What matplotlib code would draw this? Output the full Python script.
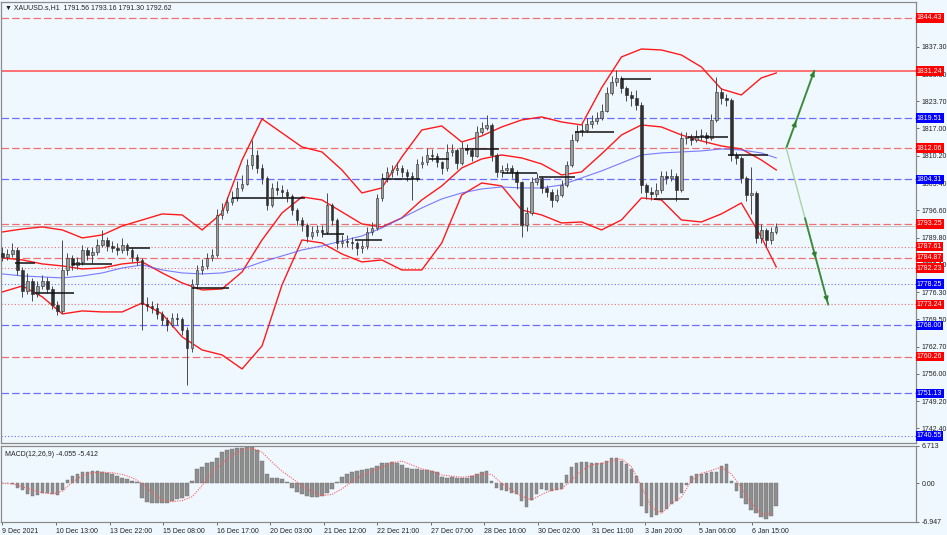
import numpy as np
import matplotlib
matplotlib.use("Agg")
import matplotlib.pyplot as plt
from matplotlib.transforms import blended_transform_factory

plt.rcParams['font.family'] = ['Liberation Sans', 'DejaVu Sans']

# XAUUSD H1 chart, squeezed to one candle per ~3 hours
HOURS = 3.076
closes = [1785.0, 1785.8, 1786.8, 1781.8, 1776.6, 1779.1, 1775.8, 1777.8, 1779.1, 1777.1,
          1773.1, 1771.6, 1781.8, 1784.8, 1783.1, 1783.8, 1786.8, 1785.5, 1786.3, 1788.0,
          1789.3, 1787.8, 1787.3, 1786.8, 1788.0, 1786.8, 1785.0, 1784.3, 1773.4, 1772.9,
          1772.4, 1770.9, 1769.4, 1768.1, 1769.9, 1769.6, 1766.9, 1762.4, 1778.3, 1781.8,
          1782.8, 1784.8, 1785.5, 1795.5, 1796.7, 1798.7, 1799.7, 1802.2, 1803.2, 1807.9,
          1810.4, 1807.2, 1804.7, 1798.0, 1802.2, 1801.7, 1801.2, 1800.2, 1796.7, 1794.2,
          1793.0, 1790.3, 1791.3, 1791.7, 1791.3, 1798.0, 1794.2, 1788.5, 1789.0, 1788.8,
          1788.5, 1787.3, 1787.8, 1791.3, 1792.2, 1799.7, 1804.7, 1806.2, 1806.7, 1807.2,
          1806.2, 1805.2, 1804.7, 1808.2, 1808.6, 1810.4, 1810.1, 1808.6, 1807.2, 1811.1,
          1811.6, 1808.4, 1812.1, 1811.6, 1810.1, 1816.1, 1817.1, 1817.8, 1810.4, 1806.2,
          1806.7, 1807.2, 1806.2, 1803.7, 1793.0, 1796.0, 1803.7, 1804.7, 1802.2, 1801.2,
          1799.2, 1800.4, 1802.9, 1807.9, 1814.1, 1816.4, 1816.6, 1818.1, 1818.8, 1819.6,
          1821.3, 1825.8, 1828.5, 1829.5, 1827.0, 1825.3, 1824.6, 1822.8, 1802.9, 1801.2,
          1800.7, 1801.7, 1805.2, 1804.7, 1805.2, 1801.7, 1814.6, 1814.6, 1814.1, 1815.1,
          1815.4, 1814.6, 1819.1, 1826.0, 1824.6, 1824.1, 1810.4, 1809.6, 1804.7, 1800.4,
          1800.9, 1789.8, 1791.7, 1789.3, 1791.3, 1792.6]
highs = [1787.5, 1787.0, 1788.6, 1787.4, 1782.5, 1781.0, 1779.8, 1779.0, 1780.6, 1780.0,
         1777.8, 1774.0, 1789.3, 1786.0, 1785.5, 1785.0, 1788.0, 1787.6, 1787.5, 1789.4,
         1791.7, 1790.0, 1789.0, 1788.5, 1789.8, 1788.6, 1787.5, 1785.8, 1784.8, 1775.0,
         1774.2, 1773.6, 1771.5, 1770.2, 1771.2, 1771.0, 1770.2, 1767.5, 1779.6, 1783.0,
         1784.4, 1786.0, 1787.0, 1797.0, 1798.5, 1800.0, 1801.3, 1804.0, 1805.5, 1809.5,
         1814.1, 1811.5, 1808.2, 1805.2, 1803.5, 1804.0, 1803.0, 1802.0, 1800.8, 1797.2,
         1795.0, 1793.5, 1792.8, 1793.0, 1793.0, 1800.9, 1798.5, 1794.8, 1790.5, 1790.6,
         1790.0, 1789.0, 1789.2, 1792.5, 1793.8, 1800.8, 1806.0, 1807.5, 1808.0, 1808.6,
         1808.0, 1807.0, 1806.2, 1809.4, 1810.0, 1812.0, 1811.8, 1810.8, 1809.0, 1813.0,
         1813.2, 1812.0, 1813.6, 1813.2, 1812.0, 1817.5, 1818.5, 1820.3, 1818.2, 1810.8,
         1808.0, 1808.4, 1807.8, 1806.6, 1804.0, 1797.4, 1805.0, 1806.0, 1805.2, 1803.0,
         1801.8, 1802.0, 1804.2, 1809.0, 1815.6, 1817.8, 1818.0, 1819.5, 1820.4, 1821.0,
         1823.0, 1827.2, 1830.0, 1831.5, 1830.0, 1827.6, 1826.2, 1826.6, 1823.5, 1803.5,
         1802.5, 1803.5, 1806.5, 1806.4, 1806.8, 1805.8, 1816.0, 1816.0, 1815.6, 1816.5,
         1816.8, 1816.2, 1820.5, 1829.8, 1827.0, 1825.6, 1824.6, 1811.0, 1810.0, 1805.2,
         1807.4, 1801.4, 1793.2, 1792.2, 1792.5, 1793.5]
lows = [1784.0, 1784.2, 1785.0, 1780.6, 1775.0, 1775.8, 1774.0, 1775.0, 1777.0, 1776.0,
        1772.0, 1770.6, 1771.0, 1780.5, 1781.8, 1782.0, 1783.0, 1784.2, 1783.5, 1785.6,
        1787.4, 1786.5, 1786.2, 1785.4, 1786.0, 1785.5, 1783.8, 1783.0, 1766.9, 1771.5,
        1771.0, 1769.6, 1768.0, 1766.6, 1767.5, 1768.2, 1765.6, 1753.2, 1761.5, 1777.0,
        1780.8, 1782.0, 1784.0, 1785.0, 1794.5, 1796.0, 1798.0, 1799.0, 1801.5, 1802.8,
        1807.0, 1806.0, 1803.2, 1796.8, 1797.5, 1800.5, 1800.0, 1798.8, 1795.4, 1793.0,
        1791.6, 1788.8, 1789.5, 1790.2, 1790.0, 1790.8, 1793.0, 1787.0, 1787.6, 1787.5,
        1787.0, 1785.5, 1786.0, 1787.0, 1790.5, 1791.8, 1799.0, 1803.6, 1805.0, 1805.5,
        1804.8, 1803.8, 1799.2, 1804.0, 1807.2, 1808.0, 1808.8, 1807.4, 1805.6, 1806.5,
        1810.0, 1807.0, 1808.0, 1810.5, 1809.0, 1809.8, 1815.5, 1816.5, 1809.0, 1805.0,
        1805.0, 1805.8, 1804.6, 1802.0, 1790.0, 1791.5, 1795.5, 1803.0, 1801.0, 1800.0,
        1797.5, 1798.6, 1800.0, 1802.5, 1807.5, 1813.5, 1815.0, 1816.0, 1817.2, 1818.0,
        1819.0, 1821.0, 1825.2, 1827.6, 1825.8, 1823.8, 1822.5, 1821.5, 1801.0, 1799.4,
        1799.2, 1800.0, 1801.0, 1803.2, 1803.8, 1799.0, 1801.2, 1813.2, 1812.8, 1813.6,
        1814.0, 1813.2, 1814.0, 1818.5, 1823.0, 1822.5, 1809.0, 1808.2, 1803.4, 1799.0,
        1795.8, 1788.5, 1788.6, 1787.5, 1788.2, 1790.8]
first_open = 1786.0

# Bollinger bands and moving average, every 4th candle
bb_upper = [1791.25, 1791.99, 1792.49, 1791.74, 1789.76, 1790.50, 1792.74, 1794.23, 1795.72, 1795.47,
            1791.74, 1795.97, 1809.14, 1819.33, 1815.85, 1812.37, 1811.13, 1806.65, 1800.94, 1802.18,
            1809.89, 1816.59, 1817.59, 1813.61, 1815.10, 1817.34, 1819.08, 1819.83, 1818.58, 1817.84,
            1827.03, 1834.74, 1836.72, 1836.47, 1835.23, 1832.25, 1826.78, 1825.29, 1829.52, 1830.76]
bb_middle = [1784.79, 1784.29, 1783.30, 1782.80, 1782.05, 1782.30, 1783.30, 1783.79, 1781.06, 1778.57,
             1776.83, 1777.08, 1781.31, 1789.26, 1795.97, 1799.95, 1799.20, 1796.22, 1793.24, 1792.49,
             1794.73, 1799.20, 1802.68, 1807.15, 1809.39, 1810.38, 1809.64, 1808.15, 1805.41, 1806.16,
             1810.63, 1815.35, 1817.84, 1817.34, 1815.35, 1813.86, 1812.62, 1811.87, 1809.14, 1806.65]
bb_lower = [1776.34, 1777.83, 1775.10, 1770.87, 1771.62, 1771.37, 1771.37, 1773.60, 1770.87, 1765.16,
            1761.92, 1760.68, 1757.20, 1762.92, 1778.08, 1789.26, 1788.51, 1785.78, 1783.79, 1784.29,
            1781.80, 1781.80, 1788.51, 1800.44, 1803.42, 1802.68, 1796.71, 1795.47, 1793.48, 1793.73,
            1791.74, 1794.23, 1799.70, 1799.20, 1794.23, 1793.73, 1795.72, 1798.45, 1790.01, 1782.55]
ma_blue = [1780.81, 1780.31, 1780.07, 1779.82, 1780.31, 1781.06, 1782.30, 1783.05, 1781.80, 1781.06,
           1780.81, 1781.06, 1782.05, 1783.79, 1785.28, 1786.77, 1787.77, 1789.01, 1790.25, 1792.24,
           1794.73, 1797.21, 1799.45, 1800.94, 1801.93, 1802.43, 1802.18, 1802.18, 1802.93, 1804.67,
           1806.41, 1808.39, 1810.38, 1810.88, 1811.13, 1811.38, 1811.87, 1811.62, 1810.88, 1809.64]

# black period lines (start candle, end candle, price)
seg_start = [2.6, 6.6, 14.0, 25.4, 38.0, 46.0, 53.4, 64.0, 70.6, 76.0, 85.4, 92.6, 100.0, 107.4, 114.6, 124.0, 130.6, 137.4, 145.4]
seg_end = [6.6, 14.4, 22.0, 29.6, 45.4, 53.0, 60.6, 68.4, 76.0, 83.6, 89.4, 99.4, 107.0, 114.6, 122.4, 130.0, 137.6, 145.4, 153.4]
seg_price = [1783.5, 1776.1, 1783.3, 1787.3, 1777.3, 1799.7, 1799.7, 1790.8, 1789.3, 1804.4, 1809.4, 1811.9, 1805.9, 1804.9, 1816.1, 1829.3, 1799.5, 1814.9, 1810.4]

# horizontal levels
level_prices = [1844.43, 1831.24, 1819.51, 1812.06, 1804.31, 1793.25, 1787.61, 1784.87, 1782.23, 1778.25, 1773.24, 1768.00, 1760.26, 1751.13, 1740.55]
level_colors = ['red', 'red', 'blue', 'red', 'blue', 'red', 'red', 'red', 'red', 'blue', 'red', 'blue', 'red', 'blue', 'blue']
level_styles = ['dash', 'solid', 'dash', 'dash', 'dash', 'dash', 'dot', 'dash', 'dot', 'dot', 'dot', 'dash', 'dash', 'dash', 'dot']
last_price = 1792.62

price_ticks = [1837.30, 1830.50, 1823.70, 1817.00, 1810.20, 1803.40, 1796.60, 1789.80, 1783.10, 1776.30, 1769.50, 1762.70, 1756.00, 1749.20, 1742.40]

# MACD(12,26,9) histogram per candle, signal every 2nd candle
macd_hist = [0.1, 0.0, -0.2, -0.8, -1.2, -1.9, -2.2, -2.1, -1.7, -1.7,
             -1.9, -2.1, -1.2, 0.6, 1.3, 1.6, 2.0, 2.1, 2.2, 2.3,
             2.1, 1.8, 1.6, 1.3, 1.0, 0.8, 0.4, 0.2, -2.6, -3.3,
             -3.6, -3.6, -3.6, -3.5, -3.1, -2.8, -2.7, -2.3, 0.4, 2.5,
             3.0, 3.6, 3.8, 4.6, 5.6, 6.0, 6.2, 6.3, 6.4, 6.5,
             6.5, 6.0, 4.0, 1.6, 1.0, 0.9, 0.8, 0.2, -0.9, -1.5,
             -2.0, -2.3, -2.5, -2.4, -2.3, -1.8, -1.0, 0.3, 1.2, 1.6,
             2.0, 2.3, 2.4, 2.5, 2.7, 3.2, 3.6, 3.7, 3.8, 3.7,
             3.3, 2.8, 2.6, 2.5, 2.4, 2.4, 2.3, 2.0, 1.2, 0.9,
             1.1, 1.0, 0.9, 1.0, 1.4, 1.7, 2.0, 2.3, 0.4, -0.8,
             -1.2, -1.4, -1.7, -1.9, -3.2, -4.2, -3.0, -1.9, -1.1, -1.2,
             -1.3, -1.2, -1.0, 1.5, 3.0, 3.6, 3.9, 3.8, 3.7, 3.6,
             3.7, 4.1, 4.5, 4.6, 4.1, 3.5, 2.6, 1.3, -4.0, -5.4,
             -6.0, -5.6, -5.1, -4.6, -3.8, -3.2, -1.8, -0.3, 1.4, 1.6,
             1.7, 1.9, 2.0, 2.1, 3.2, 3.5, 0.5, -1.3, -2.6, -3.8,
             -4.8, -5.4, -6.0, -6.4, -5.8, -4.055]
macd_signal = [0.0, -0.1, -0.6, -1.2, -1.7, -1.9, -1.4, 0.2, 1.4, 1.9,
               2.0, 1.9, 1.6, 1.0, 0.0, -1.6, -3.0, -3.3, -3.1, -2.4,
               -0.4, 2.0, 3.6, 5.0, 6.0, 6.3, 5.6, 3.8, 2.2, 0.9,
               -0.4, -1.5, -2.2, -2.0, -1.0, 0.3, 1.4, 2.2, 2.9, 3.7,
               4.0, 3.3, 2.6, 2.2, 1.5, 1.3, 1.1, 1.3, 1.7, 1.6,
               0.0, -1.2, -2.3, -3.0, -2.0, -1.2, -1.0, 0.6, 2.3, 3.3,
               3.6, 4.0, 4.4, 3.0, -0.5, -4.3, -5.4, -3.6, -2.5, 0.5,
               1.8, 2.3, 2.9, 1.7, -0.7, -3.6, -5.6, -5.412]
macd_top, macd_bottom = 6.713, -6.947

time_labels = ['9 Dec 2021', '10 Dec 13:00', '13 Dec 22:00', '15 Dec 08:00', '16 Dec 17:00',
               '20 Dec 03:00', '21 Dec 12:00', '22 Dec 21:00', '27 Dec 07:00', '28 Dec 16:00',
               '30 Dec 02:00', '31 Dec 11:00', '3 Jan 20:00', '5 Jan 06:00', '6 Jan 15:00']

# forecast arrows (candle, price)
arrow_base = (157.0, 1812.06)
arrow_up = (162.6, 1831.24)
arrow_down = (165.4, 1773.24)

BG = '#f0f8ff'
FS = 5.0

fig = plt.figure(figsize=(9.47, 5.35), dpi=100, facecolor=BG)
ax = fig.add_axes([0.001, 0.1720, 0.9663, 0.8243])
ax2 = fig.add_axes([0.001, 0.0243, 0.9663, 0.1421])
for a in (ax, ax2):
    a.set_facecolor(BG)
    a.set_xlim(-0.3, 183.0)
    for s in a.spines.values():
        s.set_color('#8a8a8a')
        s.set_linewidth(0.9)
    a.yaxis.tick_right()
    a.tick_params(axis='y', length=2.5, width=0.6, colors='#555555', labelsize=FS, pad=1.5, labelcolor='#222222')

ax.set_ylim(1738.8, 1848.4)
ax.set_xticks([])
ax.set_yticks(price_ticks)
ax.set_yticklabels(['%.2f' % p for p in price_ticks])

# levels
trans = blended_transform_factory(ax.transAxes, ax.transData)
line_col = {'red': '#f07070', 'blue': '#6c6cff'}
box_col = {'red': '#ff0000', 'blue': '#0000ff'}
for p, c, st in zip(level_prices, level_colors, level_styles):
    if st == 'solid':
        ax.axhline(p, color='#ff5a5a', lw=1.2, zorder=1)
    elif st == 'dash':
        ax.axhline(p, color=line_col[c], lw=0.9, ls=(0, (6, 2.5)), zorder=1)
    else:
        ax.axhline(p, color=line_col[c], lw=0.8, ls=(0, (1, 2)), zorder=1)
    ax.text(1.001, p, '%.2f' % p, transform=trans, ha='left', va='center', fontsize=FS,
            color='white', clip_on=False, zorder=6,
            bbox=dict(boxstyle='square,pad=0.18', fc=box_col[c], ec='none'))
ax.axhline(last_price, color='#c4c4c4', lw=0.7, zorder=1)

# bands
band_x = np.minimum(np.arange(len(bb_upper)) * 4, len(closes) - 1)
for band in (bb_upper, bb_middle, bb_lower):
    ax.plot(band_x, band, color='#ff1a1a', lw=1.0, zorder=2, solid_joinstyle='round')
ax.plot(band_x, ma_blue, color='#5b5bff', lw=0.8, alpha=0.8, zorder=2)

# candles
x = np.arange(len(closes))
opens = [first_open] + closes[:-1]
ax.vlines(x, lows, highs, color='#4a4a4a', lw=0.7, zorder=3)
for i in range(len(closes)):
    o, c = opens[i], closes[i]
    bottom = min(o, c)
    height = max(abs(c - o), 0.15)
    fc = '#9c9c9c' if c >= o else '#303030'
    ax.bar(i, height, bottom=bottom, width=0.5, color=fc, edgecolor='#2a2a2a', lw=0.4, zorder=3)

# black period lines
ax.hlines(seg_price, seg_start, seg_end, color='#111111', lw=1.1, zorder=4)

# forecast arrows
ax.plot([arrow_base[0], arrow_up[0]], [arrow_base[1], arrow_up[1]], color='#3c8c3c', lw=1.4, zorder=5)
mid_frac_down = 0.45
mid_down = (arrow_base[0] + (arrow_down[0] - arrow_base[0]) * mid_frac_down,
            arrow_base[1] + (arrow_down[1] - arrow_base[1]) * mid_frac_down)
ax.plot([arrow_base[0], mid_down[0]], [arrow_base[1], mid_down[1]], color='#a6d4a6', lw=1.0, zorder=5)
ax.plot([mid_down[0], arrow_down[0]], [mid_down[1], arrow_down[1]], color='#3c8c3c', lw=1.4, zorder=5)
for tip, frac in ((arrow_up, 0.35), (arrow_up, 1.0), (arrow_down, 0.72), (arrow_down, 1.0)):
    hx = arrow_base[0] + (tip[0] - arrow_base[0]) * frac
    hy = arrow_base[1] + (tip[1] - arrow_base[1]) * frac
    tx = arrow_base[0] + (tip[0] - arrow_base[0]) * (frac - 0.05)
    ty = arrow_base[1] + (tip[1] - arrow_base[1]) * (frac - 0.05)
    ax.annotate('', xy=(hx, hy), xytext=(tx, ty), zorder=5,
                arrowprops=dict(arrowstyle='-|>', color='#2f7f2f', lw=1.0, mutation_scale=7))

fig.text(5 / 947, 1 - 8 / 535, '\u25bc XAUUSD.s,H1  1791.56 1793.16 1791.30 1792.62',
         fontsize=FS, va='center', ha='left', color='#222222')

# MACD panel
ax2.set_ylim(macd_bottom, macd_top)
ax2.bar(x, macd_hist, width=0.72, color='#8e8e8e', edgecolor='#6e6e6e', lw=0.3, zorder=2)
sig_x = np.minimum(np.arange(len(macd_signal)) * 2, len(closes) - 1)
ax2.plot(sig_x, macd_signal, color='#ff5a5a', lw=0.8, ls=(0, (1, 1.2)), zorder=3)
ax2.set_yticks([macd_top, 0.0, macd_bottom])
ax2.set_yticklabels(['6.713', '0.00', '-6.947'])
ax2.text(0.004, 0.93, 'MACD(12,26,9) -4.055 -5.412', transform=ax2.transAxes,
         fontsize=FS, va='top', ha='left', color='#222222')

tick_pos = np.arange(len(time_labels)) * 33 / HOURS
ax2.set_xticks(tick_pos)
ax2.set_xticklabels(time_labels, ha='left')
ax2.tick_params(axis='x', length=2.5, width=0.6, colors='#555555', labelsize=FS, pad=1.5, labelcolor='#222222')

fig.savefig('out.png', dpi=100, facecolor=BG)
